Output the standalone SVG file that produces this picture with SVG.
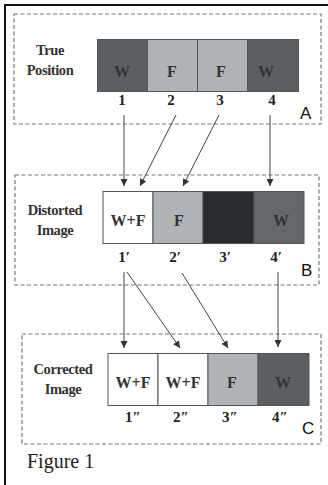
<svg xmlns="http://www.w3.org/2000/svg" width="328" height="485" viewBox="0 0 328 485">
<defs>
<marker id="ah" viewBox="0 0 10 10" refX="10" refY="5" markerWidth="7" markerHeight="7" markerUnits="userSpaceOnUse" orient="auto">
<path d="M0,0 L10,5 L0,10 z" fill="#333"/>
</marker>
</defs>
<style>
.frame{stroke:#111;stroke-width:2;fill:none}
.dash{fill:none;stroke:#777;stroke-width:1.2;stroke-dasharray:4,2.5}
.cell{stroke:#555;stroke-width:1}
.w{fill:#5c5f62}
.f{fill:#b1b4b6}
.k{fill:#272b2d}
.m{fill:#646769}
.wh{fill:#fff}
.lbl{font-family:"Liberation Serif",serif;font-weight:bold;font-size:16px;fill:#333;text-anchor:middle}
.side{font-family:"Liberation Serif",serif;font-weight:bold;font-size:14.5px;fill:#333;text-anchor:middle;letter-spacing:-0.4px}
.num{font-family:"Liberation Serif",serif;font-weight:bold;font-size:15px;fill:#222;text-anchor:middle}
.tag{font-family:"Liberation Sans",sans-serif;font-size:17px;fill:#111}
.cap{font-family:"Liberation Serif",serif;font-size:20px;fill:#222}
.conn line{stroke:#444;stroke-width:1;marker-end:url(#ah)}
</style>
<rect width="328" height="485" fill="#fff"/>
<path class="frame" d="M5,485 V5 H328"/>

<g id="panelA">
<rect class="dash" x="14" y="14" width="307" height="110"/>
<text class="side" x="50" y="55">True</text>
<text class="side" x="50" y="75">Position</text>
<rect class="cell w" x="97.5" y="39.5" width="50" height="52"/>
<rect class="cell f" x="147.5" y="39.5" width="50" height="52"/>
<rect class="cell f" x="197.5" y="39.5" width="50" height="52"/>
<rect class="cell w" x="247.5" y="39.5" width="51" height="52"/>
<text class="lbl" x="122" y="77">W</text>
<text class="lbl" x="172" y="77">F</text>
<text class="lbl" x="221" y="77">F</text>
<text class="lbl" x="266" y="77">W</text>
<text class="num" x="122" y="105">1</text>
<text class="num" x="171" y="105">2</text>
<text class="num" x="220" y="105">3</text>
<text class="num" x="272" y="105">4</text>
<text class="tag" x="300" y="119">A</text>
</g>

<g id="panelB">
<rect class="dash" x="15" y="175" width="304" height="110"/>
<text class="side" x="55" y="215">Distorted</text>
<text class="side" x="55" y="235">Image</text>
<rect class="cell wh" x="103" y="191.5" width="50" height="52"/>
<rect class="cell f" x="153" y="191.5" width="50" height="52"/>
<rect class="cell k" x="203" y="191.5" width="51" height="52"/>
<rect class="cell m" x="254" y="191.5" width="50" height="52"/>
<text class="lbl" x="128" y="226">W+F</text>
<text class="lbl" x="179" y="226">F</text>
<text class="lbl" x="281" y="226">W</text>
<text class="num" x="124" y="262">1′</text>
<text class="num" x="175" y="262">2′</text>
<text class="num" x="225" y="262">3′</text>
<text class="num" x="276" y="262">4′</text>
<text class="tag" x="301" y="276">B</text>
</g>

<g id="panelC">
<rect class="dash" x="22" y="334" width="299" height="110"/>
<text class="side" x="63" y="374">Corrected</text>
<text class="side" x="63" y="394">Image</text>
<rect class="cell wh" x="108" y="353.5" width="50" height="52"/>
<rect class="cell wh" x="158" y="353.5" width="50" height="52"/>
<rect class="cell f" x="208" y="353.5" width="50" height="52"/>
<rect class="cell w" x="258" y="353.5" width="51" height="52"/>
<text class="lbl" x="133" y="388">W+F</text>
<text class="lbl" x="183" y="388">W+F</text>
<text class="lbl" x="232" y="388">F</text>
<text class="lbl" x="283" y="388">W</text>
<text class="num" x="133" y="422">1″</text>
<text class="num" x="181" y="422">2″</text>
<text class="num" x="230" y="422">3″</text>
<text class="num" x="280" y="422">4″</text>
<text class="tag" x="302" y="434">C</text>
</g>

<g id="connectors" class="conn">
<line x1="124" y1="115" x2="124" y2="186"/>
<line x1="176" y1="115" x2="140" y2="186"/>
<line x1="219" y1="115" x2="183" y2="186"/>
<line x1="270" y1="115" x2="270" y2="186"/>
<line x1="124" y1="272" x2="124" y2="348"/>
<line x1="127" y1="272" x2="180" y2="348"/>
<line x1="182" y1="273" x2="228" y2="348"/>
<line x1="278" y1="272" x2="278" y2="347"/>
</g>

<text class="cap" x="27" y="468">Figure 1</text>
</svg>
